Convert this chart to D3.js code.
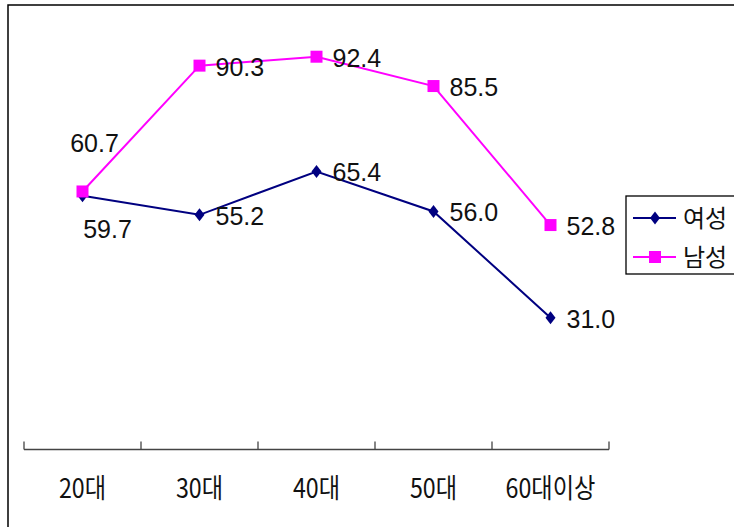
<!DOCTYPE html>
<html>
<head>
<meta charset="utf-8">
<script src="https://cdn.jsdelivr.net/npm/d3@7"></script>
<style>
  body { margin: 0; background: #fff; }
  svg { display: block; }
</style>
</head>
<body>
<div id="chart"></div>
<script>
// categories and series
var categories = ["20대", "30대", "40대", "50대", "60대이상"];
var women = [59.7, 55.2, 65.4, 56.0, 31.0];   // 여성
var men   = [60.7, 90.3, 92.4, 85.5, 52.8];   // 남성
var seriesNames = ["여성", "남성"];

var W = 734, H = 527;

var svg = d3.select("#chart").append("svg")
    .attr("width", W)
    .attr("height", H);

// outer chart border (cut off on right and bottom)
svg.append("rect")
    .attr("x", 8).attr("y", 5)
    .attr("width", 760).attr("height", 560)
    .attr("fill", "none")
    .attr("stroke", "#000")
    .attr("stroke-width", 1.5);

var x = d3.scaleBand().domain(categories).range([24, 609]).padding(0);
var y = d3.scaleLinear().domain([0, 100]).range([449.5, 24.4]);

function cx(i) { return x(categories[i]) + x.bandwidth() / 2; }

// category axis, ticks pointing up
var axisY = 449.5;
var axis = svg.append("g").attr("class", "x-axis");
axis.append("line")
    .attr("x1", x.range()[0]).attr("x2", x.range()[1])
    .attr("y1", axisY).attr("y2", axisY)
    .attr("stroke", "#444").attr("stroke-width", 1.3);
var bounds = categories.map(function(c) { return x(c); }).concat([x.range()[1]]);
axis.selectAll("line.tick")
    .data(bounds)
  .enter().append("line")
    .attr("class", "tick")
    .attr("x1", function(d) { return d; }).attr("x2", function(d) { return d; })
    .attr("y1", axisY).attr("y2", axisY - 8)
    .attr("stroke", "#444").attr("stroke-width", 1.3);
axis.selectAll("text")
    .data(categories)
  .enter().append("text")
    .attr("transform", function(d) {
      return "translate(" + (x(d) + x.bandwidth() / 2) + ",498) scale(0.86,1)";
    })
    .attr("text-anchor", "middle")
    .style("font-family", "'Noto Sans CJK KR', sans-serif")
    .style("font-size", "27px")
    .attr("fill", "#111")
    .text(function(d) { return d; });

var line = d3.line()
    .x(function(d, i) { return cx(i); })
    .y(function(d) { return y(d); });

var diamond = "M0,-6.5L5,0L0,6.5L-5,0Z";
var square = "M-6,-6H6V6H-6Z";

var series = [
  { name: seriesNames[0], values: women, color: "#000080", marker: diamond },
  { name: seriesNames[1], values: men, color: "#FF00FF", marker: square }
];

// label placement: right of marker by default
function labelPos(s, i) {
  var px = cx(i), py = y(s.values[i]);
  if (i === 0 && s.name === "남성") return { x: px + 12, y: py - 48, anchor: "middle" };
  if (i === 0 && s.name === "여성") return { x: px + 25, y: py + 33, anchor: "middle" };
  return { x: px + 16, y: py + 1, anchor: "start" };
}

series.forEach(function(s) {
  var g = svg.append("g");
  g.append("path")
    .datum(s.values)
    .attr("d", line)
    .attr("fill", "none")
    .attr("stroke", s.color)
    .attr("stroke-width", 2);
  g.selectAll("path.mark")
    .data(s.values)
  .enter().append("path")
    .attr("class", "mark")
    .attr("d", s.marker)
    .attr("transform", function(d, i) { return "translate(" + cx(i) + "," + y(d) + ")"; })
    .attr("fill", s.color);
});

// data labels drawn on top
series.forEach(function(s) {
  svg.append("g").selectAll("text")
    .data(s.values)
  .enter().append("text")
    .attr("x", function(d, i) { return labelPos(s, i).x; })
    .attr("y", function(d, i) { return labelPos(s, i).y; })
    .attr("dy", "0.36em")
    .attr("text-anchor", function(d, i) { return labelPos(s, i).anchor; })
    .style("font-family", "'Liberation Sans', Arial, sans-serif")
    .style("font-size", "25px")
    .attr("fill", "#111")
    .text(function(d) { return d.toFixed(1); });
});

// legend
var legend = svg.append("g").attr("transform", "translate(626,196)");
legend.append("rect")
    .attr("x", 0).attr("y", 0)
    .attr("width", 130).attr("height", 78)
    .attr("fill", "#fff")
    .attr("stroke", "#000")
    .attr("stroke-width", 1.3);
var item = legend.selectAll("g.item")
    .data(series)
  .enter().append("g")
    .attr("class", "item")
    .attr("transform", function(d, i) { return "translate(0," + (22 + i * 39) + ")"; });
item.append("line")
    .attr("x1", 7).attr("x2", 50)
    .attr("stroke", function(d) { return d.color; })
    .attr("stroke-width", 2);
item.append("path")
    .attr("d", function(d) { return d.marker; })
    .attr("transform", "translate(29,0)")
    .attr("fill", function(d) { return d.color; });
item.append("text")
    .attr("x", 57)
    .attr("dy", "0.36em")
    .style("font-family", "'Noto Sans CJK KR', sans-serif")
    .style("font-size", "24px")
    .attr("fill", "#111")
    .text(function(d) { return d.name; });
</script>
</body>
</html>
